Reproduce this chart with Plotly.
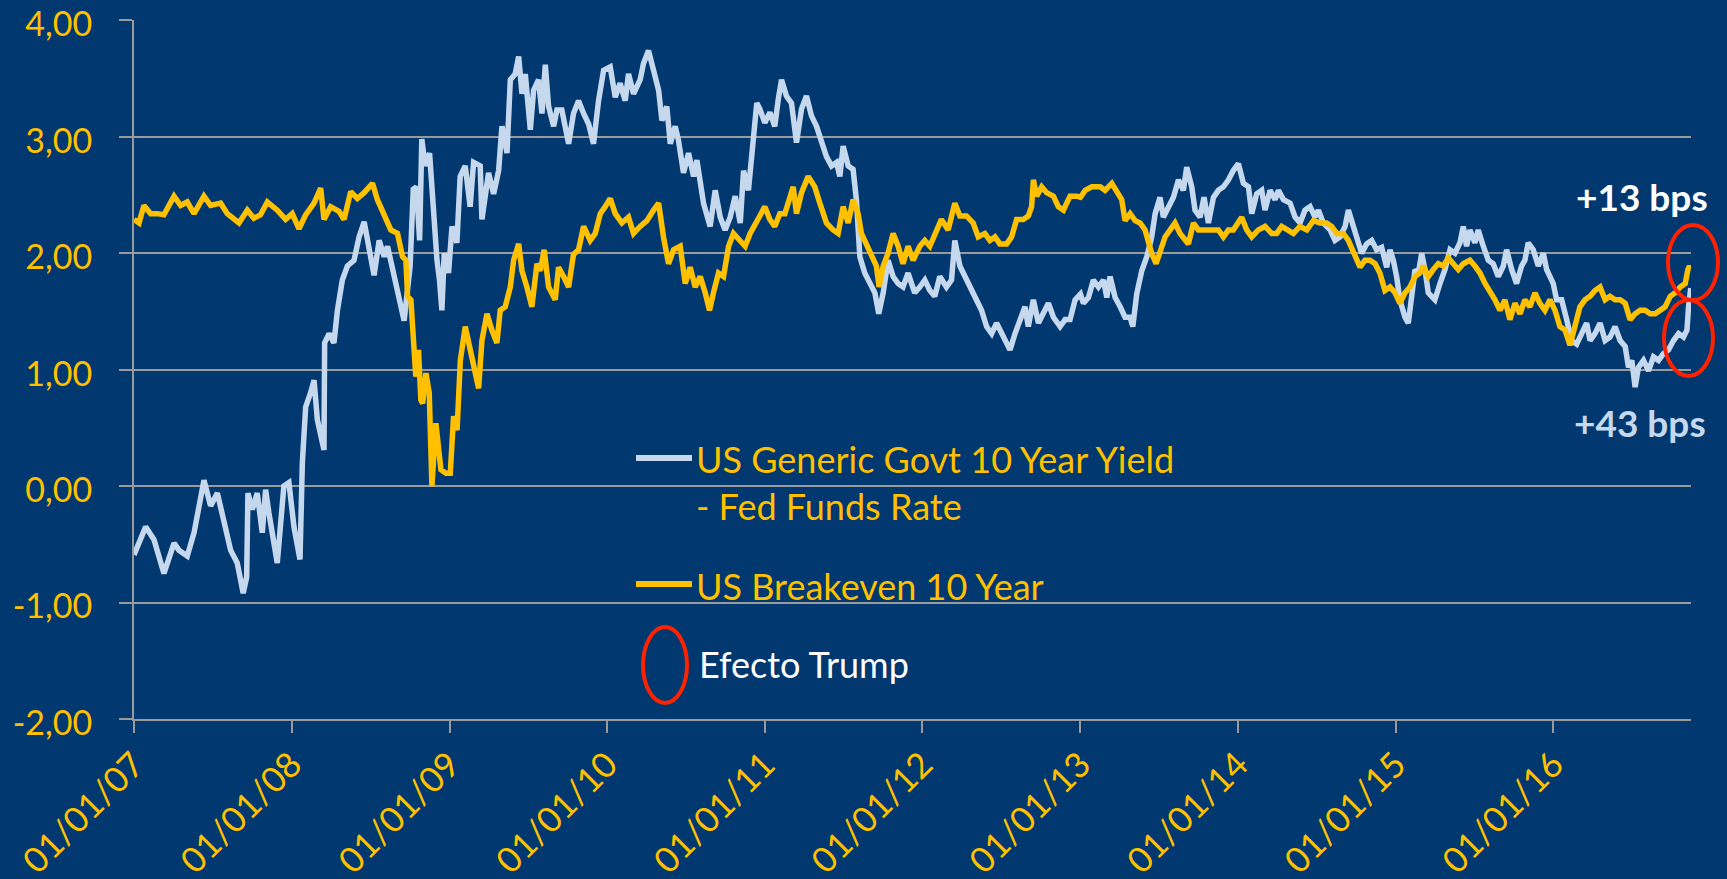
import pandas as pd
import plotly.graph_objects as go

# ---- data (decimal years) ----
blue_years = [
    2007.000, 2007.074, 2007.127, 2007.190, 2007.254, 2007.285, 2007.338, 2007.381, 2007.444, 2007.486,
    2007.529, 2007.571, 2007.613, 2007.655, 2007.693, 2007.715, 2007.723, 2007.751, 2007.782, 2007.814,
    2007.835, 2007.856, 2007.909, 2007.951, 2007.983, 2008.015, 2008.053, 2008.068, 2008.089, 2008.120,
    2008.142, 2008.163, 2008.184, 2008.205, 2008.209, 2008.237, 2008.268, 2008.290, 2008.321, 2008.353,
    2008.395, 2008.427, 2008.459, 2008.490, 2008.522, 2008.554, 2008.586, 2008.607, 2008.649, 2008.687,
    2008.712, 2008.750, 2008.770, 2008.790, 2008.810, 2008.824, 2008.845, 2008.873, 2008.898, 2008.920,
    2008.936, 2008.951, 2008.966, 2008.993, 2009.015, 2009.046, 2009.067, 2009.099, 2009.130, 2009.152,
    2009.194, 2009.205, 2009.247, 2009.279, 2009.311, 2009.332, 2009.364, 2009.385, 2009.416, 2009.438,
    2009.459, 2009.480, 2009.512, 2009.533, 2009.564, 2009.586, 2009.607, 2009.628, 2009.660, 2009.681,
    2009.712, 2009.755, 2009.786, 2009.818, 2009.850, 2009.882, 2009.913, 2009.945, 2009.977, 2010.019,
    2010.051, 2010.082, 2010.114, 2010.135, 2010.167, 2010.209, 2010.230, 2010.262, 2010.294, 2010.326,
    2010.347, 2010.378, 2010.400, 2010.431, 2010.452, 2010.484, 2010.516, 2010.548, 2010.569, 2010.611,
    2010.653, 2010.685, 2010.717, 2010.748, 2010.780, 2010.812, 2010.844, 2010.865, 2010.896, 2010.928,
    2010.949, 2010.968, 2011.000, 2011.032, 2011.063, 2011.085, 2011.106, 2011.137, 2011.169, 2011.201,
    2011.233, 2011.264, 2011.296, 2011.328, 2011.359, 2011.391, 2011.423, 2011.455, 2011.476, 2011.497,
    2011.529, 2011.560, 2011.581, 2011.603, 2011.634, 2011.666, 2011.698, 2011.723, 2011.751, 2011.782,
    2011.814, 2011.846, 2011.877, 2011.909, 2011.951, 2011.983, 2012.015, 2012.047, 2012.078, 2012.110,
    2012.152, 2012.184, 2012.205, 2012.237, 2012.268, 2012.300, 2012.342, 2012.374, 2012.406, 2012.438,
    2012.469, 2012.512, 2012.554, 2012.586, 2012.617, 2012.649, 2012.670, 2012.702, 2012.734, 2012.765,
    2012.797, 2012.829, 2012.871, 2012.903, 2012.934, 2012.966, 2013.000, 2013.019, 2013.051, 2013.082,
    2013.114, 2013.146, 2013.167, 2013.188, 2013.220, 2013.252, 2013.283, 2013.315, 2013.332, 2013.357,
    2013.389, 2013.421, 2013.452, 2013.474, 2013.505, 2013.526, 2013.558, 2013.590, 2013.622, 2013.653,
    2013.674, 2013.706, 2013.727, 2013.759, 2013.784, 2013.812, 2013.844, 2013.875, 2013.907, 2013.939,
    2013.970, 2014.002, 2014.034, 2014.066, 2014.087, 2014.118, 2014.150, 2014.171, 2014.203, 2014.235,
    2014.256, 2014.288, 2014.330, 2014.362, 2014.393, 2014.425, 2014.457, 2014.488, 2014.510, 2014.541,
    2014.584, 2014.615, 2014.647, 2014.679, 2014.700, 2014.721, 2014.753, 2014.784, 2014.816, 2014.848,
    2014.879, 2014.911, 2014.943, 2014.964, 2014.985, 2015.006, 2015.027, 2015.059, 2015.080, 2015.101,
    2015.123, 2015.144, 2015.165, 2015.186, 2015.207, 2015.228, 2015.249, 2015.281, 2015.313, 2015.345,
    2015.376, 2015.408, 2015.429, 2015.450, 2015.471, 2015.503, 2015.524, 2015.556, 2015.588, 2015.619,
    2015.651, 2015.683, 2015.704, 2015.736, 2015.767, 2015.799, 2015.820, 2015.841, 2015.873, 2015.905,
    2015.937, 2015.958, 2015.979, 2016.000, 2016.021, 2016.053, 2016.085, 2016.116, 2016.148, 2016.180,
    2016.211, 2016.233, 2016.264, 2016.296, 2016.328, 2016.359, 2016.391, 2016.423, 2016.455, 2016.476,
    2016.497, 2016.518, 2016.539, 2016.571, 2016.603, 2016.634, 2016.666, 2016.698, 2016.729, 2016.761,
    2016.793, 2016.824, 2016.846, 2016.856, 2016.870,
]
blue_values = [
    -0.59, -0.35, -0.46, -0.75, -0.49, -0.55, -0.60, -0.40, 0.05, -0.17,
    -0.06, -0.29, -0.55, -0.66, -0.92, -0.78, -0.06, -0.20, -0.06, -0.40,
    -0.03, -0.23, -0.66, 0.00, 0.03, -0.35, -0.63, 0.20, 0.68, 0.80,
    0.91, 0.57, 0.45, 0.31, 1.23, 1.31, 1.23, 1.51, 1.77, 1.89,
    1.94, 2.14, 2.27, 2.06, 1.81, 2.11, 1.97, 2.06, 1.80, 1.55,
    1.42, 1.89, 2.55, 2.57, 2.11, 2.98, 2.75, 2.86, 2.32, 1.94,
    1.77, 1.51, 2.00, 1.83, 2.23, 2.09, 2.66, 2.75, 2.40, 2.78,
    2.75, 2.29, 2.69, 2.51, 2.71, 3.09, 2.86, 3.49, 3.54, 3.69,
    3.37, 3.54, 3.06, 3.40, 3.49, 3.20, 3.62, 3.26, 3.09, 3.23,
    3.23, 2.94, 3.20, 3.31, 3.20, 3.11, 2.94, 3.31, 3.57, 3.60,
    3.34, 3.46, 3.31, 3.54, 3.37, 3.49, 3.63, 3.74, 3.57, 3.40,
    3.14, 3.26, 2.94, 3.09, 2.97, 2.69, 2.86, 2.66, 2.80, 2.43,
    2.23, 2.54, 2.31, 2.20, 2.31, 2.49, 2.26, 2.71, 2.54, 3.06,
    3.29, 3.24, 3.12, 3.21, 3.09, 3.32, 3.49, 3.35, 3.29, 2.95,
    3.24, 3.35, 3.18, 3.09, 2.95, 2.83, 2.75, 2.78, 2.66, 2.92,
    2.75, 2.72, 2.46, 1.97, 1.83, 1.74, 1.66, 1.48, 1.66, 1.94,
    1.80, 1.74, 1.71, 1.83, 1.66, 1.71, 1.77, 1.68, 1.63, 1.80,
    1.71, 1.77, 2.11, 1.89, 1.80, 1.71, 1.60, 1.51, 1.37, 1.31,
    1.40, 1.28, 1.17, 1.31, 1.43, 1.54, 1.37, 1.60, 1.40, 1.48,
    1.57, 1.45, 1.37, 1.43, 1.43, 1.60, 1.65, 1.57, 1.62, 1.77,
    1.71, 1.77, 1.62, 1.80, 1.62, 1.54, 1.45, 1.45, 1.37, 1.65,
    1.85, 1.97, 2.14, 2.34, 2.48, 2.31, 2.40, 2.48, 2.63, 2.54,
    2.74, 2.57, 2.37, 2.31, 2.48, 2.26, 2.48, 2.54, 2.57, 2.63,
    2.71, 2.77, 2.60, 2.57, 2.34, 2.51, 2.54, 2.37, 2.54, 2.46,
    2.54, 2.46, 2.43, 2.31, 2.26, 2.37, 2.40, 2.31, 2.37, 2.26,
    2.20, 2.11, 2.14, 2.23, 2.37, 2.28, 2.11, 2.00, 2.08, 2.11,
    2.03, 2.05, 1.88, 2.03, 1.94, 1.80, 1.60, 1.45, 1.40, 1.60,
    1.86, 1.83, 2.00, 1.86, 1.66, 1.63, 1.60, 1.74, 1.86, 2.03,
    2.00, 2.09, 2.23, 2.06, 2.20, 2.09, 2.20, 2.06, 1.94, 1.91,
    1.80, 1.89, 2.03, 1.86, 1.74, 1.89, 1.94, 2.09, 2.03, 1.89,
    2.00, 1.86, 1.80, 1.74, 1.60, 1.60, 1.43, 1.25, 1.22, 1.31,
    1.40, 1.25, 1.31, 1.40, 1.25, 1.28, 1.37, 1.25, 1.20, 1.02,
    1.08, 0.85, 1.02, 1.08, 0.99, 1.11, 1.08, 1.14, 1.17, 1.25,
    1.31, 1.28, 1.34, 1.54, 1.70,
]

yellow_years = [
    2007.000, 2007.032, 2007.063, 2007.106, 2007.148, 2007.190, 2007.254, 2007.296, 2007.338, 2007.381,
    2007.444, 2007.486, 2007.550, 2007.592, 2007.666, 2007.719, 2007.761, 2007.803, 2007.846, 2007.909,
    2007.962, 2008.004, 2008.047, 2008.089, 2008.142, 2008.184, 2008.205, 2008.247, 2008.300, 2008.332,
    2008.374, 2008.416, 2008.459, 2008.512, 2008.543, 2008.586, 2008.628, 2008.670, 2008.702, 2008.723,
    2008.734, 2008.755, 2008.776, 2008.786, 2008.803, 2008.818, 2008.829, 2008.850, 2008.871, 2008.888,
    2008.913, 2008.945, 2008.977, 2009.004, 2009.025, 2009.047, 2009.068, 2009.099, 2009.131, 2009.163,
    2009.184, 2009.205, 2009.237, 2009.268, 2009.300, 2009.321, 2009.353, 2009.385, 2009.406, 2009.438,
    2009.459, 2009.490, 2009.522, 2009.554, 2009.575, 2009.600, 2009.628, 2009.670, 2009.691, 2009.723,
    2009.755, 2009.786, 2009.818, 2009.850, 2009.892, 2009.924, 2009.956, 2009.987, 2010.019, 2010.051,
    2010.093, 2010.135, 2010.167, 2010.209, 2010.252, 2010.294, 2010.326, 2010.357, 2010.389, 2010.421,
    2010.463, 2010.495, 2010.526, 2010.558, 2010.590, 2010.622, 2010.649, 2010.674, 2010.706, 2010.738,
    2010.770, 2010.801, 2010.844, 2010.875, 2010.907, 2010.949, 2010.968, 2011.000, 2011.032, 2011.063,
    2011.095, 2011.127, 2011.159, 2011.180, 2011.201, 2011.233, 2011.275, 2011.317, 2011.349, 2011.391,
    2011.433, 2011.465, 2011.497, 2011.529, 2011.560, 2011.592, 2011.613, 2011.645, 2011.677, 2011.708,
    2011.725, 2011.751, 2011.782, 2011.814, 2011.846, 2011.877, 2011.909, 2011.941, 2011.983, 2012.015,
    2012.047, 2012.078, 2012.120, 2012.163, 2012.205, 2012.237, 2012.279, 2012.321, 2012.353, 2012.395,
    2012.427, 2012.459, 2012.490, 2012.533, 2012.564, 2012.596, 2012.638, 2012.670, 2012.691, 2012.702,
    2012.723, 2012.755, 2012.786, 2012.829, 2012.860, 2012.892, 2012.934, 2012.977, 2013.000, 2013.030,
    2013.072, 2013.125, 2013.156, 2013.199, 2013.230, 2013.262, 2013.283, 2013.315, 2013.347, 2013.378,
    2013.410, 2013.431, 2013.452, 2013.480, 2013.505, 2013.537, 2013.569, 2013.600, 2013.632, 2013.664,
    2013.685, 2013.717, 2013.748, 2013.791, 2013.833, 2013.875, 2013.907, 2013.939, 2013.970, 2014.002,
    2014.023, 2014.055, 2014.087, 2014.129, 2014.171, 2014.214, 2014.245, 2014.277, 2014.309, 2014.351,
    2014.393, 2014.436, 2014.478, 2014.520, 2014.562, 2014.594, 2014.626, 2014.668, 2014.700, 2014.721,
    2014.742, 2014.774, 2014.805, 2014.837, 2014.869, 2014.900, 2014.932, 2014.964, 2014.996, 2015.027,
    2015.059, 2015.091, 2015.123, 2015.154, 2015.175, 2015.207, 2015.239, 2015.271, 2015.302, 2015.334,
    2015.366, 2015.397, 2015.429, 2015.471, 2015.503, 2015.535, 2015.567, 2015.598, 2015.630, 2015.662,
    2015.693, 2015.725, 2015.757, 2015.789, 2015.820, 2015.852, 2015.884, 2015.915, 2015.947, 2015.979,
    2016.011, 2016.042, 2016.074, 2016.106, 2016.137, 2016.169, 2016.201, 2016.233, 2016.264, 2016.296,
    2016.328, 2016.359, 2016.391, 2016.423, 2016.455, 2016.486, 2016.518, 2016.550, 2016.581, 2016.613,
    2016.645, 2016.677, 2016.708, 2016.740, 2016.772, 2016.803, 2016.835, 2016.852, 2016.862, 2016.870,
]
yellow_values = [
    2.29, 2.26, 2.41, 2.34, 2.34, 2.33, 2.49, 2.41, 2.44, 2.34,
    2.49, 2.41, 2.43, 2.34, 2.26, 2.37, 2.30, 2.33, 2.44, 2.37,
    2.29, 2.34, 2.21, 2.33, 2.43, 2.56, 2.29, 2.40, 2.36, 2.29,
    2.53, 2.47, 2.52, 2.60, 2.46, 2.34, 2.20, 2.17, 1.97, 1.94,
    1.63, 1.60, 1.14, 0.94, 1.17, 0.74, 0.71, 0.97, 0.80, 0.00,
    0.54, 0.14, 0.11, 0.11, 0.60, 0.48, 1.08, 1.37, 1.17, 0.97,
    0.84, 1.25, 1.48, 1.34, 1.23, 1.51, 1.54, 1.71, 1.94, 2.08,
    1.85, 1.71, 1.54, 1.91, 1.85, 2.03, 1.71, 1.60, 1.88, 1.80,
    1.71, 1.99, 2.03, 2.23, 2.11, 2.17, 2.34, 2.40, 2.47, 2.34,
    2.26, 2.31, 2.17, 2.23, 2.28, 2.37, 2.43, 2.14, 1.91, 2.03,
    2.06, 1.74, 1.88, 1.71, 1.80, 1.66, 1.51, 1.66, 1.83, 1.80,
    2.06, 2.17, 2.11, 2.06, 2.17, 2.26, 2.32, 2.40, 2.29, 2.23,
    2.34, 2.34, 2.46, 2.57, 2.34, 2.52, 2.66, 2.57, 2.43, 2.26,
    2.20, 2.17, 2.40, 2.26, 2.46, 2.34, 2.17, 2.08, 1.97, 1.89,
    1.71, 1.89, 2.00, 2.17, 2.06, 1.91, 2.06, 1.94, 2.06, 2.11,
    2.06, 2.17, 2.29, 2.20, 2.43, 2.32, 2.32, 2.26, 2.14, 2.17,
    2.11, 2.14, 2.08, 2.08, 2.14, 2.29, 2.29, 2.32, 2.40, 2.63,
    2.49, 2.57, 2.52, 2.49, 2.40, 2.37, 2.49, 2.49, 2.48, 2.54,
    2.57, 2.57, 2.54, 2.60, 2.54, 2.46, 2.28, 2.34, 2.28, 2.26,
    2.20, 2.08, 2.00, 1.91, 2.03, 2.14, 2.20, 2.26, 2.17, 2.11,
    2.08, 2.26, 2.20, 2.20, 2.20, 2.20, 2.14, 2.20, 2.20, 2.28,
    2.31, 2.20, 2.14, 2.20, 2.23, 2.17, 2.17, 2.23, 2.20, 2.17,
    2.23, 2.20, 2.28, 2.26, 2.26, 2.23, 2.17, 2.17, 2.11, 2.05,
    1.97, 1.88, 1.94, 1.94, 1.91, 1.83, 1.68, 1.71, 1.66, 1.57,
    1.66, 1.71, 1.80, 1.83, 1.89, 1.80, 1.86, 1.91, 1.89, 1.96,
    1.91, 1.86, 1.91, 1.94, 1.89, 1.83, 1.74, 1.68, 1.60, 1.51,
    1.60, 1.43, 1.57, 1.48, 1.60, 1.54, 1.66, 1.57, 1.51, 1.60,
    1.51, 1.37, 1.34, 1.21, 1.37, 1.54, 1.60, 1.63, 1.68, 1.71,
    1.60, 1.63, 1.60, 1.60, 1.57, 1.43, 1.48, 1.51, 1.51, 1.48,
    1.48, 1.51, 1.54, 1.63, 1.66, 1.71, 1.74, 1.86, 1.89, 1.86,
]

y_tick_values = [-2, -1, 0, 1, 2, 3, 4]
y_tick_labels = ["-2,00", "-1,00", "0,00", "1,00", "2,00", "3,00", "4,00"]
x_tick_dates = ["2007-01-01", "2008-01-01", "2009-01-01", "2010-01-01", "2011-01-01",
                "2012-01-01", "2013-01-01", "2014-01-01", "2015-01-01", "2016-01-01"]
x_tick_labels = ["01/01/07", "01/01/08", "01/01/09", "01/01/10", "01/01/11",
                 "01/01/12", "01/01/13", "01/01/14", "01/01/15", "01/01/16"]

series_blue_name = "US Generic Govt 10 Year Yield - Fed Funds Rate"
series_yellow_name = "US Breakeven 10 Year"


def to_date(y):
    yr = int(y)
    start = pd.Timestamp(year=yr, month=1, day=1)
    end = pd.Timestamp(year=yr + 1, month=1, day=1)
    return start + (end - start) * (y - yr)


blue_dates = [to_date(v) for v in blue_years]
yellow_dates = [to_date(v) for v in yellow_years]

BG = "#00386f"
YEL = "#FFC000"
LBLUE = "#C6D8EE"
GRID = "#9a9a9a"
RED = "#FF2200"
FONT = "Lato"

fig = go.Figure()
fig.add_trace(go.Scatter(x=blue_dates, y=blue_values, mode="lines", name=series_blue_name,
                         line=dict(color=LBLUE, width=5.5), showlegend=False))
fig.add_trace(go.Scatter(x=yellow_dates, y=yellow_values, mode="lines", name=series_yellow_name,
                         line=dict(color=YEL, width=5.5), showlegend=False))

W, H = 1727, 879
L, R, T, B = 134, 36, 20, 160
pw, ph = W - L - R, H - T - B


def px(xp):
    return (xp - L) / pw


def py(yp):
    return (H - B - yp) / ph


shapes = []
annotations = []
# custom legend
shapes.append(dict(type="line", xref="paper", yref="paper", x0=px(636), x1=px(692), y0=py(458), y1=py(458),
                   line=dict(color=LBLUE, width=6)))
shapes.append(dict(type="line", xref="paper", yref="paper", x0=px(636), x1=px(692), y0=py(584), y1=py(584),
                   line=dict(color=YEL, width=6)))
shapes.append(dict(type="circle", xref="paper", yref="paper", x0=px(643), x1=px(687), y0=py(703), y1=py(627),
                   line=dict(color=RED, width=4)))
annotations.append(dict(xref="paper", yref="paper", x=px(694), y=py(459), xanchor="left", yanchor="middle",
                        text="US Generic Govt 10 Year Yield", showarrow=False,
                        font=dict(family=FONT, size=36, color=YEL)))
annotations.append(dict(xref="paper", yref="paper", x=px(694), y=py(506), xanchor="left", yanchor="middle",
                        text="- Fed Funds Rate", showarrow=False,
                        font=dict(family=FONT, size=36, color=YEL)))
annotations.append(dict(xref="paper", yref="paper", x=px(694), y=py(586), xanchor="left", yanchor="middle",
                        text=series_yellow_name, showarrow=False,
                        font=dict(family=FONT, size=36, color=YEL)))
annotations.append(dict(xref="paper", yref="paper", x=px(697), y=py(664), xanchor="left", yanchor="middle",
                        text="Efecto Trump", showarrow=False,
                        font=dict(family=FONT, size=36, color="white")))
# Trump-effect markers
shapes.append(dict(type="circle", xref="paper", yref="paper", x0=px(1668), x1=px(1718), y0=py(300), y1=py(225),
                   line=dict(color=RED, width=4)))
shapes.append(dict(type="circle", xref="paper", yref="paper", x0=px(1664), x1=px(1713), y0=py(376), y1=py(300),
                   line=dict(color=RED, width=4)))
annotations.append(dict(xref="paper", yref="paper", x=px(1642), y=py(196), xanchor="center", yanchor="middle",
                        text="<b>+13 bps</b>", showarrow=False,
                        font=dict(family=FONT, size=37, color="white")))
annotations.append(dict(xref="paper", yref="paper", x=px(1640), y=py(422), xanchor="center", yanchor="middle",
                        text="<b>+43 bps</b>", showarrow=False,
                        font=dict(family=FONT, size=37, color=LBLUE)))

fig.update_layout(
    width=W, height=H,
    margin=dict(l=L, r=R, t=T, b=B, pad=0, autoexpand=False),
    paper_bgcolor=BG, plot_bgcolor=BG,
    font=dict(family=FONT, color=YEL),
    shapes=shapes, annotations=annotations,
    showlegend=False,
)
fig.update_xaxes(
    type="date", range=["2007-01-01", "2016-11-15"], automargin=False,
    tickmode="array", tickvals=x_tick_dates, ticktext=x_tick_labels,
    tickangle=-45, ticks="outside", ticklen=12, tickwidth=2, tickcolor=GRID,
    showline=True, linecolor=GRID, linewidth=2, showgrid=False, zeroline=False,
    tickfont=dict(family=FONT, size=35, color=YEL), ticklabelstandoff=-3,
    ticklabeloverflow="allow",
)
fig.update_yaxes(
    range=[-2, 4.003], automargin=False, tickmode="array", tickvals=y_tick_values, ticktext=y_tick_labels,
    ticks="outside", ticklen=13, tickwidth=2, tickcolor=GRID,
    showline=True, linecolor=GRID, linewidth=2,
    showgrid=True, gridcolor=GRID, gridwidth=1.5, zeroline=False,
    tickfont=dict(family=FONT, size=34, color=YEL), ticklabelstandoff=20, ticklabelshift=4,
    ticklabeloverflow="allow",
)

fig.write_html("out.html", config={"displayModeBar": False},
               post_script="document.body.style.margin='0';document.body.style.overflow='hidden';")
